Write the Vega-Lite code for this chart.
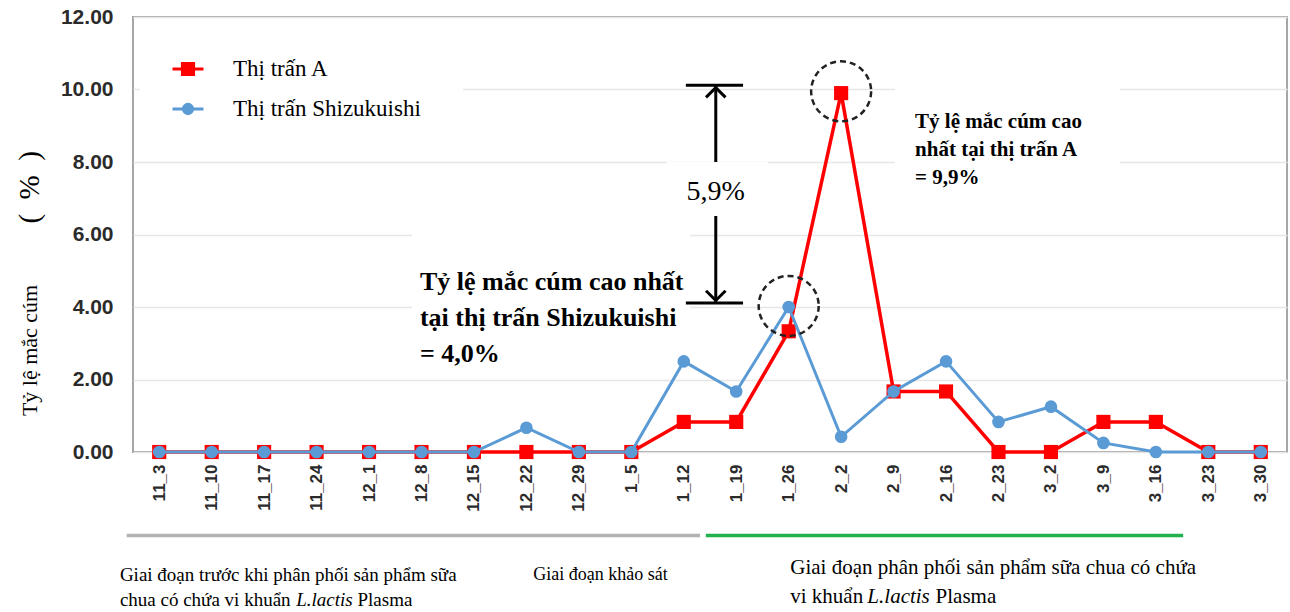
{
  "$schema": "https://vega.github.io/schema/vega-lite/v6.json",
  "width": 1154,
  "height": 435,
  "autosize": {"type": "none"},
  "padding": {"left": 133, "top": 17, "right": 3, "bottom": 160},
  "background": "white",
  "config": {"view": {"stroke": "#a6a6a6", "strokeWidth": 2}},
  "datasets": {
    "series": [
      {"week": "11_3", "idx": 0, "town": "Thị trấn A", "rate": 0},
      {"week": "11_10", "idx": 1, "town": "Thị trấn A", "rate": 0},
      {"week": "11_17", "idx": 2, "town": "Thị trấn A", "rate": 0},
      {"week": "11_24", "idx": 3, "town": "Thị trấn A", "rate": 0},
      {"week": "12_1", "idx": 4, "town": "Thị trấn A", "rate": 0},
      {"week": "12_8", "idx": 5, "town": "Thị trấn A", "rate": 0},
      {"week": "12_15", "idx": 6, "town": "Thị trấn A", "rate": 0},
      {"week": "12_22", "idx": 7, "town": "Thị trấn A", "rate": 0},
      {"week": "12_29", "idx": 8, "town": "Thị trấn A", "rate": 0},
      {"week": "1_5", "idx": 9, "town": "Thị trấn A", "rate": 0},
      {"week": "1_12", "idx": 10, "town": "Thị trấn A", "rate": 0.83},
      {"week": "1_19", "idx": 11, "town": "Thị trấn A", "rate": 0.83},
      {"week": "1_26", "idx": 12, "town": "Thị trấn A", "rate": 3.33},
      {"week": "2_2", "idx": 13, "town": "Thị trấn A", "rate": 9.9},
      {"week": "2_9", "idx": 14, "town": "Thị trấn A", "rate": 1.67},
      {"week": "2_16", "idx": 15, "town": "Thị trấn A", "rate": 1.67},
      {"week": "2_23", "idx": 16, "town": "Thị trấn A", "rate": 0},
      {"week": "3_2", "idx": 17, "town": "Thị trấn A", "rate": 0},
      {"week": "3_9", "idx": 18, "town": "Thị trấn A", "rate": 0.83},
      {"week": "3_16", "idx": 19, "town": "Thị trấn A", "rate": 0.83},
      {"week": "3_23", "idx": 20, "town": "Thị trấn A", "rate": 0},
      {"week": "3_30", "idx": 21, "town": "Thị trấn A", "rate": 0},
      {"week": "11_3", "idx": 0, "town": "Thị trấn Shizukuishi", "rate": 0},
      {"week": "11_10", "idx": 1, "town": "Thị trấn Shizukuishi", "rate": 0},
      {"week": "11_17", "idx": 2, "town": "Thị trấn Shizukuishi", "rate": 0},
      {"week": "11_24", "idx": 3, "town": "Thị trấn Shizukuishi", "rate": 0},
      {"week": "12_1", "idx": 4, "town": "Thị trấn Shizukuishi", "rate": 0},
      {"week": "12_8", "idx": 5, "town": "Thị trấn Shizukuishi", "rate": 0},
      {"week": "12_15", "idx": 6, "town": "Thị trấn Shizukuishi", "rate": 0},
      {"week": "12_22", "idx": 7, "town": "Thị trấn Shizukuishi", "rate": 0.67},
      {"week": "12_29", "idx": 8, "town": "Thị trấn Shizukuishi", "rate": 0},
      {"week": "1_5", "idx": 9, "town": "Thị trấn Shizukuishi", "rate": 0},
      {"week": "1_12", "idx": 10, "town": "Thị trấn Shizukuishi", "rate": 2.5},
      {"week": "1_19", "idx": 11, "town": "Thị trấn Shizukuishi", "rate": 1.67},
      {"week": "1_26", "idx": 12, "town": "Thị trấn Shizukuishi", "rate": 4.0},
      {"week": "2_2", "idx": 13, "town": "Thị trấn Shizukuishi", "rate": 0.42},
      {"week": "2_9", "idx": 14, "town": "Thị trấn Shizukuishi", "rate": 1.67},
      {"week": "2_16", "idx": 15, "town": "Thị trấn Shizukuishi", "rate": 2.5},
      {"week": "2_23", "idx": 16, "town": "Thị trấn Shizukuishi", "rate": 0.83},
      {"week": "3_2", "idx": 17, "town": "Thị trấn Shizukuishi", "rate": 1.25},
      {"week": "3_9", "idx": 18, "town": "Thị trấn Shizukuishi", "rate": 0.25},
      {"week": "3_16", "idx": 19, "town": "Thị trấn Shizukuishi", "rate": 0},
      {"week": "3_23", "idx": 20, "town": "Thị trấn Shizukuishi", "rate": 0},
      {"week": "3_30", "idx": 21, "town": "Thị trấn Shizukuishi", "rate": 0}
    ]
  },
  "layer": [
    {
      "data": {"name": "series"},
      "transform": [{"filter": "datum.town === 'Thị trấn A'"}],
      "mark": {"type": "line", "strokeWidth": 3.5},
      "encoding": {
        "x": {
          "field": "idx", "type": "quantitative",
          "scale": {"domain": [-0.5, 21.5], "nice": false, "zero": false},
          "axis": {
            "title": null, "values": [0,1,2,3,4,5,6,7,8,9,10,11,12,13,14,15,16,17,18,19,20,21],
            "labelExpr": "['11_3','11_10','11_17','11_24','12_1','12_8','12_15','12_22','12_29','1_5','1_12','1_19','1_26','2_2','2_9','2_16','2_23','3_2','3_9','3_16','3_23','3_30'][datum.value]",
            "labelAngle": 270, "labelAlign": "right", "labelBaseline": "middle",
            "labelFont": "Liberation Sans", "labelFontWeight": "bold", "labelFontSize": 17, "labelColor": "#2b2b2b",
            "labelPadding": 12, "labelOverlap": false, "labelBound": false, "labelFlush": false,
            "grid": false, "ticks": false, "domain": false
          }
        },
        "y": {
          "field": "rate", "type": "quantitative",
          "scale": {"domain": [0, 12], "nice": false, "zero": true},
          "axis": {
            "values": [0,1,2,3,4,5,6,7,8,9,10,11,12],
            "labelExpr": "datum.value % 2 == 0 ? format(datum.value, '.2f') : ''",
            "labelFont": "Liberation Sans", "labelFontWeight": "bold", "labelFontSize": 21, "labelColor": "#2b2b2b",
            "labelPadding": 20, "labelOverlap": false, "labelBound": false, "labelFlush": false,
            "ticks": false, "domain": false,
            "grid": true, "gridColor": "#e6e6e6", "gridWidth": 1.5,
            "title": null
          }
        },
        "color": {
          "field": "town", "type": "nominal",
          "scale": {"domain": ["Thị trấn A", "Thị trấn Shizukuishi"], "range": ["#ff0000", "#5b9bd5"]},
          "legend": {
            "orient": "none", "legendX": 38, "legendY": 35, "title": null,
            "labelFont": "Liberation Serif", "labelFontSize": 23, "labelColor": "#000000", "labelLimit": 500,
            "symbolSize": 961, "symbolStrokeWidth": 3, "rowPadding": 11, "padding": 0, "labelOffset": 28,
            "encode": {
              "symbols": {
                "update": {
                  "shape": {"signal": "datum.value === 'Thị trấn A' ? 'M-1,0H1M-0.36,-0.36H0.36V0.36H-0.36Z' : 'M-1,0H1M0.3,0A0.3,0.3 0 1,1 -0.3,0A0.3,0.3 0 1,1 0.3,0Z'"},
                  "fill": {"signal": "datum.value === 'Thị trấn A' ? '#ff0000' : '#5b9bd5'"},
                  "stroke": {"signal": "datum.value === 'Thị trấn A' ? '#ff0000' : '#5b9bd5'"},
                  "strokeWidth": {"value": 3},
                  "opacity": {"value": 1},
                  "fillOpacity": {"value": 1},
                  "strokeOpacity": {"value": 1}
                }
              }
            }
          }
        }
      }
    },
    {
      "data": {"name": "series"},
      "transform": [{"filter": "datum.town === 'Thị trấn A'"}],
      "mark": {"type": "point", "shape": "square", "filled": true, "size": 200, "opacity": 1},
      "encoding": {
        "x": {"field": "idx", "type": "quantitative"},
        "y": {"field": "rate", "type": "quantitative"},
        "color": {"field": "town", "type": "nominal"}
      }
    },
    {
      "data": {"name": "series"},
      "transform": [{"filter": "datum.town === 'Thị trấn Shizukuishi'"}],
      "mark": {"type": "line", "strokeWidth": 3},
      "encoding": {
        "x": {"field": "idx", "type": "quantitative"},
        "y": {"field": "rate", "type": "quantitative"},
        "color": {"field": "town", "type": "nominal"}
      }
    },
    {
      "data": {"name": "series"},
      "transform": [{"filter": "datum.town === 'Thị trấn Shizukuishi'"}],
      "mark": {"type": "point", "shape": "circle", "filled": true, "size": 160, "opacity": 1},
      "encoding": {
        "x": {"field": "idx", "type": "quantitative"},
        "y": {"field": "rate", "type": "quantitative"},
        "color": {"field": "town", "type": "nominal"}
      }
    },
    {
      "data": {"values": [{}]},
      "mark": {"type": "rect", "fill": "white"},
      "encoding": {
        "x": {"datum": -0.37, "type": "quantitative"}, "x2": {"datum": 5.79},
        "y": {"datum": 8.74, "type": "quantitative"}, "y2": {"datum": 11.23}
      }
    },
    {
      "data": {"values": [{}]},
      "mark": {"type": "rect", "fill": "white"},
      "encoding": {
        "x": {"datum": 14.03, "type": "quantitative"}, "x2": {"datum": 18.32},
        "y": {"datum": 7.5, "type": "quantitative"}, "y2": {"datum": 10.62}
      }
    },
    {
      "data": {"values": [{}]},
      "mark": {"type": "rect", "fill": "white"},
      "encoding": {
        "x": {"datum": 4.82, "type": "quantitative"}, "x2": {"datum": 10.12},
        "y": {"datum": 3.37, "type": "quantitative"}, "y2": {"datum": 6.26}
      }
    },
    {
      "data": {"values": [{}]},
      "mark": {"type": "rule", "color": "black", "strokeWidth": 3},
      "encoding": {
        "x": {"datum": 10.61, "type": "quantitative"},
        "y": {"datum": 4.11, "type": "quantitative"}, "y2": {"datum": 10.12}
      }
    },
    {
      "data": {"values": [{}]},
      "mark": {"type": "rule", "color": "black", "strokeWidth": 3},
      "encoding": {
        "x": {"datum": 10.04, "type": "quantitative"}, "x2": {"datum": 11.13},
        "y": {"datum": 10.12, "type": "quantitative"}
      }
    },
    {
      "data": {"values": [{}]},
      "mark": {"type": "rule", "color": "black", "strokeWidth": 3},
      "encoding": {
        "x": {"datum": 10.04, "type": "quantitative"}, "x2": {"datum": 11.13},
        "y": {"datum": 4.11, "type": "quantitative"}
      }
    },
    {
      "data": {"values": [{}]},
      "mark": {"type": "point", "shape": "M-1,1L0,0L1,1", "filled": false, "stroke": "black", "strokeWidth": 3, "size": 380, "opacity": 1},
      "encoding": {
        "x": {"datum": 10.61, "type": "quantitative"},
        "y": {"datum": 10.05, "type": "quantitative"}
      }
    },
    {
      "data": {"values": [{}]},
      "mark": {"type": "point", "shape": "M-1,-1L0,0L1,-1", "filled": false, "stroke": "black", "strokeWidth": 3, "size": 380, "opacity": 1},
      "encoding": {
        "x": {"datum": 10.61, "type": "quantitative"},
        "y": {"datum": 4.18, "type": "quantitative"}
      }
    },
    {
      "data": {"values": [{}]},
      "mark": {"type": "rect", "fill": "white"},
      "encoding": {
        "x": {"datum": 9.68, "type": "quantitative"}, "x2": {"datum": 11.61},
        "y": {"datum": 6.51, "type": "quantitative"}, "y2": {"datum": 8.0}
      }
    },
    {
      "data": {"values": [{}]},
      "mark": {"type": "text", "text": "5,9%", "font": "Liberation Serif", "fontSize": 28, "color": "black", "align": "center", "baseline": "middle"},
      "encoding": {
        "x": {"datum": 10.61, "type": "quantitative"},
        "y": {"datum": 7.17, "type": "quantitative"}
      }
    },
    {
      "data": {"values": [{}]},
      "mark": {"type": "point", "shape": "circle", "filled": false, "stroke": "#222222", "strokeWidth": 2.5, "strokeDash": [6, 4], "size": 3600, "opacity": 1},
      "encoding": {
        "x": {"datum": 13, "type": "quantitative"},
        "y": {"datum": 9.95, "type": "quantitative"}
      }
    },
    {
      "data": {"values": [{}]},
      "mark": {"type": "point", "shape": "circle", "filled": false, "stroke": "#222222", "strokeWidth": 2.5, "strokeDash": [6, 4], "size": 3600, "opacity": 1},
      "encoding": {
        "x": {"datum": 12, "type": "quantitative"},
        "y": {"datum": 4.03, "type": "quantitative"}
      }
    },
    {
      "data": {"values": [{}]},
      "mark": {"type": "text", "text": ["Tỷ lệ mắc cúm cao nhất", "tại thị trấn Shizukuishi", "= 4,0%"], "font": "Liberation Serif", "fontSize": 26, "fontWeight": "bold", "color": "black", "align": "left", "baseline": "middle", "lineHeight": 36},
      "encoding": {
        "x": {"datum": 4.97, "type": "quantitative"},
        "y": {"datum": 4.69, "type": "quantitative"}
      }
    },
    {
      "data": {"values": [{}]},
      "mark": {"type": "text", "text": ["Tỷ lệ mắc cúm cao", "nhất tại thị trấn A", "= 9,9%"], "font": "Liberation Serif", "fontSize": 21, "fontWeight": "bold", "color": "black", "align": "left", "baseline": "middle", "lineHeight": 28},
      "encoding": {
        "x": {"datum": 14.41, "type": "quantitative"},
        "y": {"datum": 9.1, "type": "quantitative"}
      }
    },
    {
      "data": {"values": [{}]},
      "mark": {"type": "text", "text": "Tỷ lệ mắc cúm", "font": "Liberation Serif", "fontSize": 22, "color": "black", "align": "left", "baseline": "middle", "angle": 270},
      "encoding": {"x": {"datum": -2.46, "type": "quantitative"}, "y": {"datum": 0.99, "type": "quantitative"}}
    },
    {
      "data": {"values": [{}]},
      "mark": {"type": "text", "text": "(\u00a0\u00a0%\u00a0\u00a0)", "font": "Liberation Serif", "fontSize": 29, "color": "black", "align": "right", "baseline": "middle", "angle": 270},
      "encoding": {"x": {"datum": -2.46, "type": "quantitative"}, "y": {"datum": 8.3, "type": "quantitative"}}
    },
    {
      "data": {"values": [{}]},
      "mark": {"type": "rule", "color": "#b3b3b3", "strokeWidth": 3.5},
      "encoding": {
        "x": {"datum": -0.62, "type": "quantitative"}, "x2": {"datum": 10.31},
        "y": {"datum": -2.3, "type": "quantitative"}
      }
    },
    {
      "data": {"values": [{}]},
      "mark": {"type": "rule", "color": "#22b14c", "strokeWidth": 3.5},
      "encoding": {
        "x": {"datum": 10.42, "type": "quantitative"}, "x2": {"datum": 19.52},
        "y": {"datum": -2.3, "type": "quantitative"}
      }
    },
    {
      "data": {"values": [{}]},
      "mark": {"type": "text", "text": "Giai đoạn trước khi phân phối sản phẩm sữa", "font": "Liberation Serif", "fontSize": 19, "color": "black", "align": "left", "baseline": "middle"},
      "encoding": {"x": {"datum": -0.75, "type": "quantitative"}, "y": {"datum": -3.39, "type": "quantitative"}}
    },
    {
      "data": {"values": [{}]},
      "mark": {"type": "text", "text": "chua có chứa vi khuẩn", "font": "Liberation Serif", "fontSize": 19, "color": "black", "align": "left", "baseline": "middle"},
      "encoding": {"x": {"datum": -0.75, "type": "quantitative"}, "y": {"datum": -4.08, "type": "quantitative"}}
    },
    {
      "data": {"values": [{}]},
      "mark": {"type": "text", "text": "L.lactis", "font": "Liberation Serif", "fontSize": 19, "fontStyle": "italic", "color": "black", "align": "left", "baseline": "middle"},
      "encoding": {"x": {"datum": 2.61, "type": "quantitative"}, "y": {"datum": -4.08, "type": "quantitative"}}
    },
    {
      "data": {"values": [{}]},
      "mark": {"type": "text", "text": "Plasma", "font": "Liberation Serif", "fontSize": 19, "color": "black", "align": "left", "baseline": "middle"},
      "encoding": {"x": {"datum": 3.78, "type": "quantitative"}, "y": {"datum": -4.08, "type": "quantitative"}}
    },
    {
      "data": {"values": [{}]},
      "mark": {"type": "text", "text": "Giai đoạn khảo sát", "font": "Liberation Serif", "fontSize": 18, "color": "black", "align": "left", "baseline": "middle"},
      "encoding": {"x": {"datum": 7.13, "type": "quantitative"}, "y": {"datum": -3.39, "type": "quantitative"}}
    },
    {
      "data": {"values": [{}]},
      "mark": {"type": "text", "text": "Giai đoạn phân phối sản phẩm sữa chua có chứa", "font": "Liberation Serif", "fontSize": 21, "color": "black", "align": "left", "baseline": "middle"},
      "encoding": {"x": {"datum": 12.03, "type": "quantitative"}, "y": {"datum": -3.2, "type": "quantitative"}}
    },
    {
      "data": {"values": [{}]},
      "mark": {"type": "text", "text": "vi khuẩn", "font": "Liberation Serif", "fontSize": 21, "color": "black", "align": "left", "baseline": "middle"},
      "encoding": {"x": {"datum": 12.03, "type": "quantitative"}, "y": {"datum": -4.0, "type": "quantitative"}}
    },
    {
      "data": {"values": [{}]},
      "mark": {"type": "text", "text": "L.lactis", "font": "Liberation Serif", "fontSize": 21, "fontStyle": "italic", "color": "black", "align": "left", "baseline": "middle"},
      "encoding": {"x": {"datum": 13.5, "type": "quantitative"}, "y": {"datum": -4.0, "type": "quantitative"}}
    },
    {
      "data": {"values": [{}]},
      "mark": {"type": "text", "text": "Plasma", "font": "Liberation Serif", "fontSize": 21, "color": "black", "align": "left", "baseline": "middle"},
      "encoding": {"x": {"datum": 14.8, "type": "quantitative"}, "y": {"datum": -4.0, "type": "quantitative"}}
    }
  ]
}
